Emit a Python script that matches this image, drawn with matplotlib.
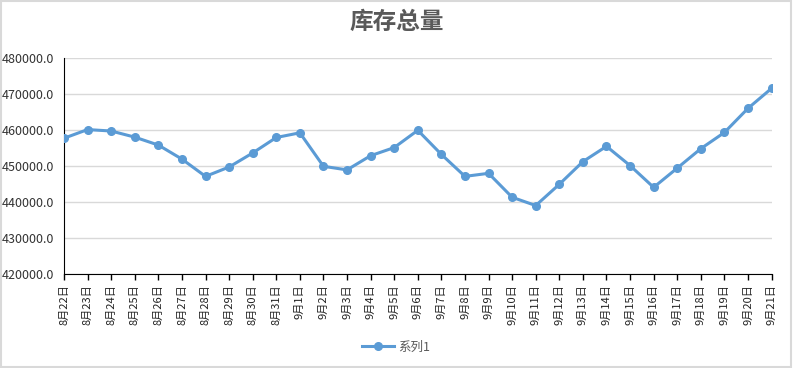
import matplotlib
matplotlib.use('Agg')
import matplotlib.pyplot as plt
from matplotlib.patches import Rectangle

plt.rcParams['font.family'] = ['Noto Sans CJK SC', 'DejaVu Sans']

dates = ['8月22日', '8月23日', '8月24日', '8月25日', '8月26日', '8月27日', '8月28日',
         '8月29日', '8月30日', '8月31日', '9月1日', '9月2日', '9月3日', '9月4日',
         '9月5日', '9月6日', '9月7日', '9月8日', '9月9日', '9月10日', '9月11日',
         '9月12日', '9月13日', '9月14日', '9月15日', '9月16日', '9月17日', '9月18日',
         '9月19日', '9月20日', '9月21日']
stock = [457800, 460200, 459800, 458100, 455900, 452000, 447200,
         449800, 453700, 458000, 459300, 450000, 449000, 452950,
         455200, 460000, 453300, 447200, 448050, 441400, 439100,
         445000, 451300, 455550, 450200, 444150, 449500, 454900,
         459400, 466100, 471650]
yticks = [420000, 430000, 440000, 450000, 460000, 470000, 480000]

fig = plt.figure(figsize=(7.93, 3.68), dpi=100)
ax = fig.add_axes([0.0807, 0.2546, 0.8923, 0.587])

x = list(range(len(dates)))
ax.plot(x, stock, color='#5B9BD5', linewidth=2.2, marker='o', markersize=5.5,
        label='系列1', zorder=3)

ax.set_xlim(0, len(dates) - 1)
ax.set_ylim(420000, 480000)
ax.set_yticks(yticks)
ax.set_yticklabels(['%.1f' % v for v in yticks], fontsize=9, color='#333333')
ax.set_xticks(x)
ax.set_xticklabels(dates, rotation=90, fontsize=8, color='#222222')
ax.tick_params(axis='x', direction='out', length=4, width=1, pad=3)
ax.tick_params(axis='y', length=0, pad=7)

ax.grid(axis='y', color='#d9d9d9', linewidth=1)
ax.set_axisbelow(True)
for s in ['top', 'right']:
    ax.spines[s].set_visible(False)
ax.spines['left'].set_color('black')
ax.spines['bottom'].set_color('black')

fig.text(0.5, 0.94, '库存总量', ha='center', va='center', fontsize=17,
         fontweight='bold', color='#595959')

leg = fig.legend(loc='center', bbox_to_anchor=(0.5, 0.057), frameon=False,
                 fontsize=9, handlelength=2.5, handletextpad=0.4)
for t in leg.get_texts():
    t.set_color('#595959')

fig.patches.append(Rectangle((0.001, 0.003), 0.997, 0.994, transform=fig.transFigure,
                             fill=False, edgecolor='#d9d9d9', linewidth=1.5))

fig.savefig('out.png', dpi=100)
